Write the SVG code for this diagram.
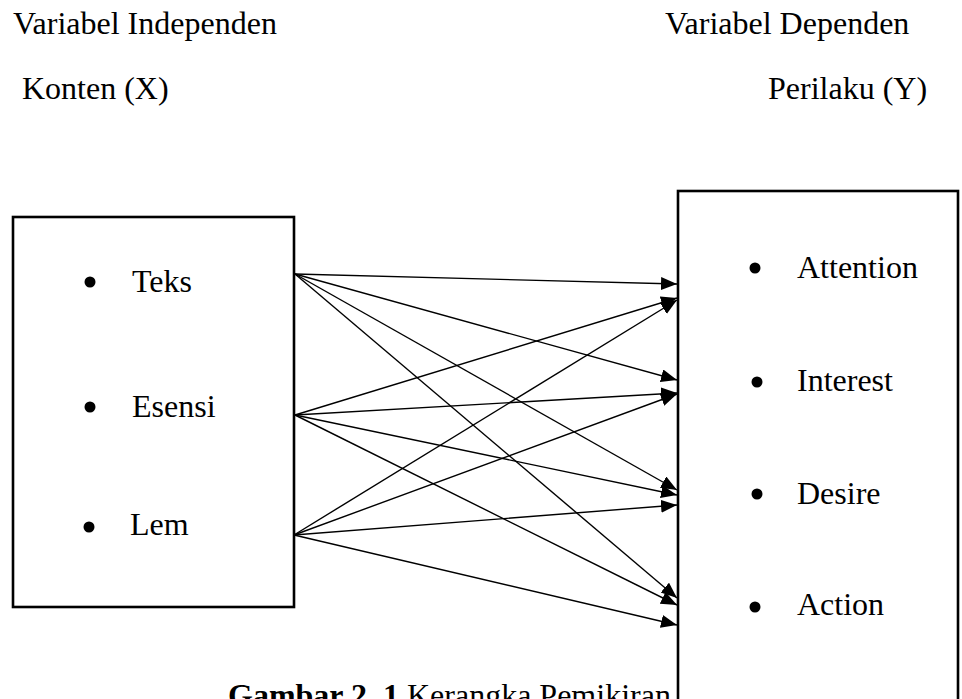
<svg xmlns="http://www.w3.org/2000/svg" width="962" height="699" viewBox="0 0 962 699">
<style>
text{font-family:"Liberation Serif","Times New Roman",serif;font-size:32px;fill:#000}
.box{fill:#fff;stroke:#000;stroke-width:2.6}
.dot{fill:#000}
.c line{stroke:#000;stroke-width:1.4;marker-end:url(#ah)}
</style>
<defs>
<marker id="ah" markerUnits="userSpaceOnUse" markerWidth="17" markerHeight="14" refX="16" refY="6.5" orient="auto">
<path d="M0,0 L16,6.5 L0,13 z" fill="#000"/>
</marker>
</defs>
<rect width="962" height="699" fill="#fff"/>
<text x="13" y="34">Variabel Independen</text>
<text x="22" y="99">Konten (X)</text>
<text x="665" y="34">Variabel Dependen</text>
<text x="768" y="99">Perilaku (Y)</text>
<g id="konten">
<rect class="box" x="13" y="217" width="281" height="390"/>
<circle class="dot" cx="90" cy="282" r="5.5"/><text x="132" y="292">Teks</text>
<circle class="dot" cx="90" cy="407" r="5.5"/><text x="132" y="417">Esensi</text>
<circle class="dot" cx="89" cy="527" r="5.5"/><text x="130" y="535">Lem</text>
</g>
<g id="perilaku">
<rect class="box" x="678" y="191" width="280" height="620"/>
<circle class="dot" cx="755" cy="268" r="5.5"/><text x="797" y="278">Attention</text>
<circle class="dot" cx="757" cy="382" r="5.5"/><text x="797" y="391">Interest</text>
<circle class="dot" cx="757" cy="494" r="5.5"/><text x="797" y="504">Desire</text>
<circle class="dot" cx="755" cy="607" r="5.5"/><text x="797" y="615">Action</text>
</g>
<g id="connectors" class="c">
<line x1="295" y1="274" x2="677" y2="284"/>
<line x1="295" y1="274" x2="677" y2="380"/>
<line x1="295" y1="274" x2="677" y2="490"/>
<line x1="295" y1="274" x2="677" y2="598"/>
<line x1="295" y1="415" x2="677" y2="298"/>
<line x1="295" y1="415" x2="677" y2="393"/>
<line x1="295" y1="415" x2="677" y2="495"/>
<line x1="295" y1="415" x2="677" y2="605"/>
<line x1="294" y1="535" x2="677" y2="300"/>
<line x1="294" y1="535" x2="677" y2="394"/>
<line x1="294" y1="535" x2="677" y2="505"/>
<line x1="294" y1="535" x2="677" y2="625"/>
</g>
<text x="228" y="706"><tspan font-weight="bold">Gambar 2. 1</tspan> Kerangka Pemikiran</text>
</svg>
